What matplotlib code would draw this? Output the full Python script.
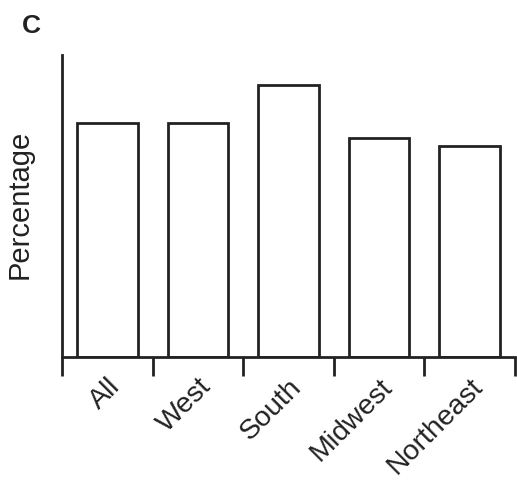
import numpy as np
import matplotlib.pyplot as plt

plt.rcParams['font.family'] = ['Liberation Sans', 'DejaVu Sans']

# Datos (sin escala visible en el eje y)
regiones = ['All', 'West', 'South', 'Midwest', 'Northeast']
porcentajes = [77.5, 77.5, 90.0, 72.5, 70.0]

color_linea = '#222222'

fig = plt.figure(figsize=(5.17, 4.82), dpi=100)
ax = fig.add_axes([62 / 517, 125 / 482, 453 / 517, 302 / 482])

x = np.arange(len(regiones))
ax.bar(x, porcentajes, width=0.67, color='white', edgecolor=color_linea, linewidth=2)

ax.set_xlim(-0.5, len(regiones) - 0.5)
ax.set_ylim(0, 100)

# Marcas entre categorías, etiquetas centradas
ax.set_xticks(np.arange(len(regiones) + 1) - 0.5)
ax.set_xticklabels([])
ax.set_xticks(x, minor=True)
ax.set_xticklabels(regiones, minor=True, rotation=45, ha='right',
                   rotation_mode='anchor', fontsize=20.5, color=color_linea)
ax.tick_params(axis='x', which='major', length=14, width=2, color=color_linea)
ax.tick_params(axis='x', which='minor', length=0, pad=12)
ax.set_yticks([])

for lado in ['top', 'right']:
    ax.spines[lado].set_visible(False)
for lado in ['left', 'bottom']:
    ax.spines[lado].set_linewidth(2)
    ax.spines[lado].set_color(color_linea)

ax.set_ylabel('Percentage', fontsize=21, color=color_linea)
ax.yaxis.set_label_coords(-0.062, 0.505)
fig.text(22 / 517, 1 - 33 / 482, 'C', fontsize=19, fontweight='bold', color=color_linea)

fig.savefig('out.png', dpi=100)
